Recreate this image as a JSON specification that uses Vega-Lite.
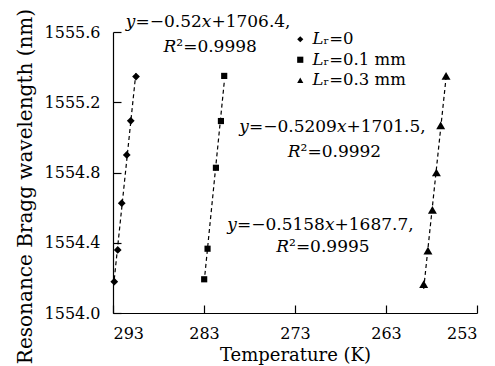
{
  "$schema": "https://vega.github.io/schema/vega-lite/v6.json",
  "width": 364,
  "height": 281,
  "autosize": {"type": "none"},
  "padding": {"left": 113, "top": 32, "right": 18, "bottom": 53},
  "background": "white",
  "config": {
    "view": {"stroke": null},
    "font": "DejaVu Serif",
    "axis": {
      "grid": false,
      "domainColor": "black",
      "tickColor": "black",
      "labelColor": "black",
      "titleColor": "black",
      "labelFont": "DejaVu Serif",
      "titleFont": "DejaVu Serif",
      "labelFontSize": 16,
      "titleFontSize": 18,
      "titleFontWeight": "normal",
      "tickSize": -8,
      "domainWidth": 1.2,
      "tickWidth": 1.2
    }
  },
  "datasets": {
    "pts": [
      {"series": "𝐿ᵣ=0", "T": 292.86, "lambda": 1554.178},
      {"series": "𝐿ᵣ=0", "T": 292.48, "lambda": 1554.359},
      {"series": "𝐿ᵣ=0", "T": 292.04, "lambda": 1554.625},
      {"series": "𝐿ᵣ=0", "T": 291.49, "lambda": 1554.9},
      {"series": "𝐿ᵣ=0", "T": 291.05, "lambda": 1555.094},
      {"series": "𝐿ᵣ=0", "T": 290.47, "lambda": 1555.346},
      {"series": "𝐿ᵣ=0.1 mm", "T": 282.98, "lambda": 1554.192},
      {"series": "𝐿ᵣ=0.1 mm", "T": 282.61, "lambda": 1554.366},
      {"series": "𝐿ᵣ=0.1 mm", "T": 281.69, "lambda": 1554.827},
      {"series": "𝐿ᵣ=0.1 mm", "T": 281.14, "lambda": 1555.093},
      {"series": "𝐿ᵣ=0.1 mm", "T": 280.78, "lambda": 1555.35},
      {"series": "𝐿ᵣ=0.3 mm", "T": 258.86, "lambda": 1554.165},
      {"series": "𝐿ᵣ=0.3 mm", "T": 258.39, "lambda": 1554.355},
      {"series": "𝐿ᵣ=0.3 mm", "T": 257.9, "lambda": 1554.587},
      {"series": "𝐿ᵣ=0.3 mm", "T": 257.46, "lambda": 1554.8},
      {"series": "𝐿ᵣ=0.3 mm", "T": 256.99, "lambda": 1555.068},
      {"series": "𝐿ᵣ=0.3 mm", "T": 256.4, "lambda": 1555.35}
    ],
    "notes": [
      {"T": 282.54, "lambda": 1555.657, "label": "𝑦=−0.52𝑥+1706.4,"},
      {"T": 282.32, "lambda": 1555.515, "label": "𝑅²=0.9998"},
      {"T": 268.88, "lambda": 1555.059, "label": "𝑦=−0.5209𝑥+1701.5,"},
      {"T": 268.66, "lambda": 1554.917, "label": "𝑅²=0.9992"},
      {"T": 270.2, "lambda": 1554.501, "label": "𝑦=−0.5158𝑥+1687.7,"},
      {"T": 269.93, "lambda": 1554.376, "label": "𝑅²=0.9995"}
    ]
  },
  "encoding": {
    "x": {
      "field": "T",
      "type": "quantitative",
      "scale": {"domain": [253, 293], "reverse": true, "nice": false, "zero": false},
      "axis": {"title": "Temperature (K)", "values": [293, 283, 273, 263, 253], "format": "d", "labelPadding": 20, "titlePadding": 5, "titleFontSize": 18}
    },
    "y": {
      "field": "lambda",
      "type": "quantitative",
      "scale": {"domain": [1554.0, 1555.6], "nice": false, "zero": false},
      "axis": {"title": "Resonance Bragg wavelength (nm)", "values": [1554.0, 1554.4, 1554.8, 1555.2, 1555.6], "format": ".1f", "labelPadding": 21, "titlePadding": 9, "titleFontSize": 20, "titleY": 154}
    }
  },
  "layer": [
    {
      "data": {"name": "pts"},
      "transform": [{"regression": "lambda", "on": "T", "groupby": ["series"]}],
      "mark": {"type": "line", "color": "black", "strokeDash": [4, 3], "strokeWidth": 1.2},
      "encoding": {"detail": {"field": "series"}}
    },
    {
      "data": {"name": "pts"},
      "transform": [{"filter": "datum.series === '𝐿ᵣ=0'"}],
      "mark": {"type": "point", "filled": true, "color": "black", "opacity": 1, "size": 60},
      "encoding": {
        "shape": {
          "field": "series",
          "type": "nominal",
          "scale": {"domain": ["𝐿ᵣ=0", "𝐿ᵣ=0.1 mm", "𝐿ᵣ=0.3 mm"], "range": ["diamond", "square", "triangle-up"]},
          "legend": {
            "title": null,
            "orient": "none",
            "legendX": 179,
            "legendY": -1,
            "symbolSize": 38,
            "symbolFillColor": "black",
            "symbolStrokeColor": "black",
            "symbolOpacity": 1,
            "labelFontSize": 16.5,
            "labelFont": "DejaVu Serif",
            "labelColor": "black",
            "labelOffset": 4,
            "rowPadding": 3.5,
            "padding": 0
          }
        }
      }
    },
    {
      "data": {"name": "pts"},
      "transform": [{"filter": "datum.series === '𝐿ᵣ=0.1 mm'"}],
      "mark": {"type": "point", "filled": true, "color": "black", "opacity": 1, "size": 38},
      "encoding": {"shape": {"field": "series", "type": "nominal"}}
    },
    {
      "data": {"name": "pts"},
      "transform": [{"filter": "datum.series === '𝐿ᵣ=0.3 mm'"}],
      "mark": {"type": "point", "filled": true, "color": "black", "opacity": 1, "size": 80},
      "encoding": {"shape": {"field": "series", "type": "nominal"}}
    },
    {
      "data": {"name": "notes"},
      "mark": {"type": "text", "fontSize": 17, "color": "black", "align": "center", "baseline": "middle", "font": "DejaVu Serif"},
      "encoding": {"text": {"field": "label"}}
    }
  ]
}
